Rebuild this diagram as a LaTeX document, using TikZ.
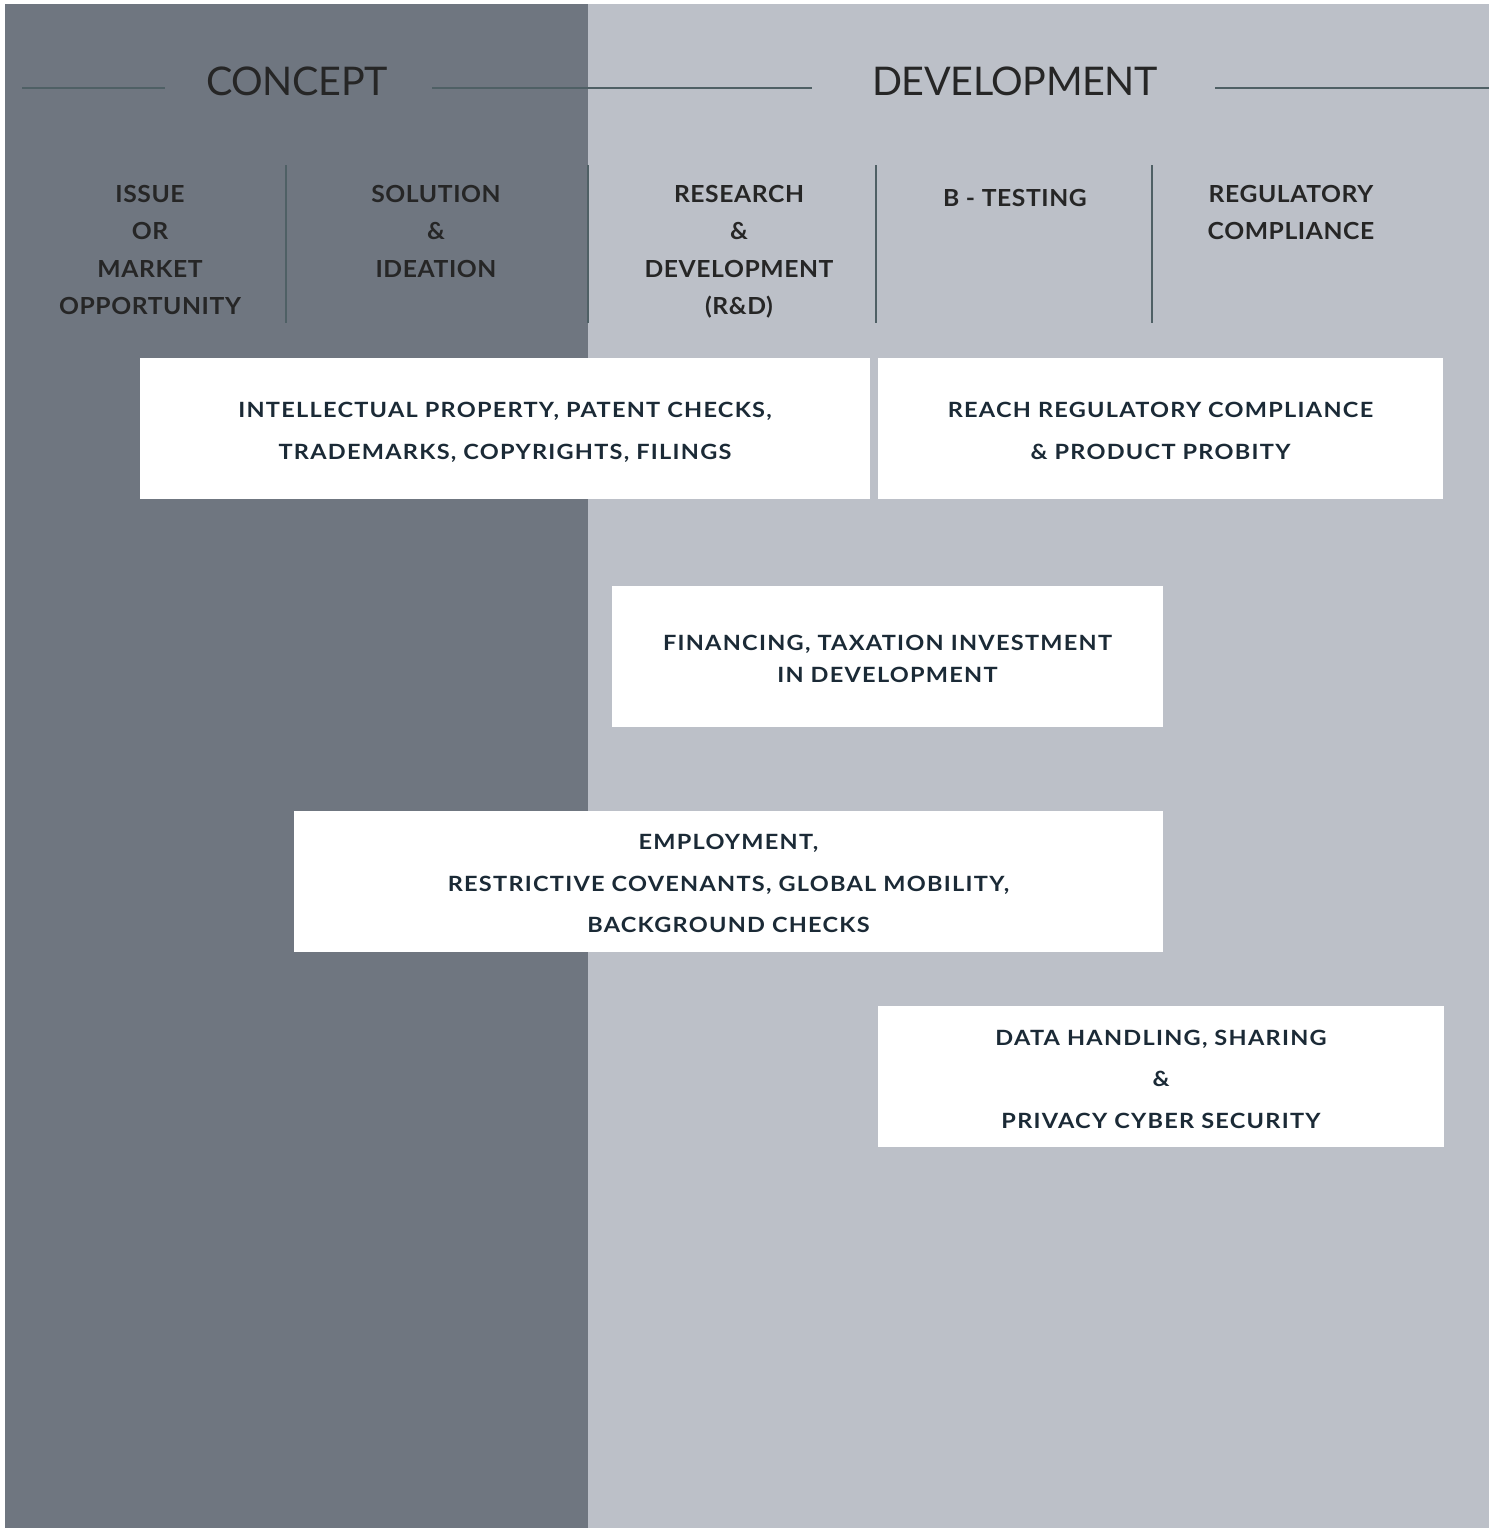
\documentclass[tikz,border=0pt]{standalone}
\usepackage{fontspec}
\setmainfont{Lato}
\newfontfamily\boxfont[FakeStretch=1.12,LetterSpace=6]{Lato}
\newfontfamily\colfont[FakeStretch=1.05,LetterSpace=2.5]{Lato}
\newfontfamily\titlefont[LetterSpace=-1]{Lato}
\definecolor{darkpanel}{HTML}{6F7680}
\definecolor{lightpanel}{HTML}{BCC0C8}
\definecolor{rulecol}{HTML}{4F6065}
\definecolor{headtext}{HTML}{262626}
\definecolor{boxtext}{HTML}{1B2A36}
\tikzset{
  title/.style={anchor=base, inner sep=0pt, text=headtext, font=\titlefont\fontsize{39.5}{48}\selectfont},
  rulel/.style={draw=rulecol, line width=1.5pt},
  sepl/.style={draw=rulecol, line width=1.3pt},
  colhead/.style={anchor=north, inner sep=0pt, align=center, text=headtext, font=\colfont\bfseries\fontsize{23.5}{37.5}\selectfont},
  infobox/.style={fill=white, inner sep=0pt},
  boxlabel/.style={inner sep=0pt, align=center, text=boxtext, font=\boxfont\bfseries\fontsize{21}{41.5}\selectfont},
}
\begin{document}
\begin{tikzpicture}[x=1pt,y=-1pt]
\useasboundingbox (0,0) rectangle (1489,1528);
\fill[white] (0,0) rectangle (1489,1528);
\fill[darkpanel] (5,4) rectangle (588,1528);
\fill[lightpanel] (588,4) rectangle (1489,1528);
% titles
\node[title] (concept) at (297,95) {CONCEPT};
\node[title] (devel) at (1015,95) {DEVELOPMENT};
\coordinate (r1a) at (22,88);
\coordinate (r1b) at (165,88);
\coordinate (r2a) at (432,88);
\coordinate (r2b) at (812,88);
\coordinate (r3a) at (1215,88);
\coordinate (r3b) at (1489,88);
\draw[rulel] (r1a) -- (r1b);
\draw[rulel] (r2a) -- (r2b);
\draw[rulel] (r3a) -- (r3b);
% column separators
\foreach \x [count=\i] in {286,588,876,1152}{
  \coordinate (s\i t) at (\x,165);
  \coordinate (s\i b) at (\x,323);
  \draw[sepl] (s\i t) -- (s\i b);
}
% column headings
\node[colhead] (issue) at (150,185) {ISSUE\\OR\\MARKET\\OPPORTUNITY};
\node[colhead] (solution) at (436,185) {SOLUTION\\\&\\IDEATION};
\node[colhead] (rnd) at (739,185) {RESEARCH\\\&\\DEVELOPMENT\\(R\&D)};
\node[colhead] (btest) at (1015,189) {B - TESTING};
\node[colhead] (regul) at (1291,185) {REGULATORY\\COMPLIANCE};
% boxes
\node[infobox, minimum width=730pt, minimum height=141pt] (ip) at (505,428.5) {};
\node[boxlabel] (iptext) at ([yshift=-4pt]ip.center)
  {INTELLECTUAL PROPERTY, PATENT CHECKS,\\TRADEMARKS, COPYRIGHTS, FILINGS};
\node[infobox, minimum width=565pt, minimum height=141pt] (reach) at (1160.5,428.5) {};
\node[boxlabel] (reachtext) at ([yshift=-2.5pt]reach.center)
  {REACH REGULATORY COMPLIANCE\\\& PRODUCT PROBITY};
\node[infobox, minimum width=551pt, minimum height=141pt] (fin) at (887.5,656.5) {};
\node[boxlabel, font=\boxfont\bfseries\fontsize{21}{32}\selectfont] (fintext) at ([yshift=-2pt]fin.center)
  {FINANCING, TAXATION INVESTMENT\\IN DEVELOPMENT};
\node[infobox, minimum width=869pt, minimum height=141pt] (emp) at (728.5,881.5) {};
\node[boxlabel] (emptext) at ([yshift=-2pt]emp.center)
  {EMPLOYMENT,\\RESTRICTIVE COVENANTS, GLOBAL MOBILITY,\\BACKGROUND CHECKS};
\node[infobox, minimum width=566pt, minimum height=141pt] (data) at (1161,1076.5) {};
\node[boxlabel] (datatext) at ([yshift=-2.5pt]data.center)
  {DATA HANDLING, SHARING\\\&\\PRIVACY CYBER SECURITY};
\end{tikzpicture}
\end{document}
